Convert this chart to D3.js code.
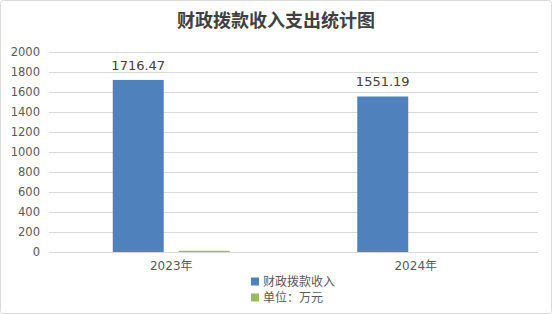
<!DOCTYPE html>
<html><head><meta charset="utf-8">
<script src="https://cdn.jsdelivr.net/npm/d3@7"></script>
<style>
html,body{margin:0;padding:0;background:#fff;}
svg text{font-family:"DejaVu Sans","Noto Sans CJK SC",sans-serif;}
</style></head>
<body><svg id="c" width="553" height="315"></svg>
<script>
const title = "财政拨款收入支出统计图";
const categories = ["2023年", "2024年"];
const seriesNames = ["财政拨款收入", "单位：万元"];
const incomeValues = [1716.47, 1551.19];
const unitValues = [12, 0];
const yTicks = [0, 200, 400, 600, 800, 1000, 1200, 1400, 1600, 1800, 2000];
const colors = ["#4F81BD", "#9BBB59"];

const svg = d3.select("#c");
svg.append("rect").attr("x",0.5).attr("y",0.5).attr("width",551).attr("height",313)
  .attr("rx",3).attr("fill","#fff").attr("stroke","#D9D9D9");

const m = {left:49, right:538, top:51.5, bottom:252};
const x0 = d3.scaleBand().domain(categories).range([m.left, m.right]);
const y = d3.scaleLinear().domain([0,2000]).range([m.bottom, m.top]);
const series = [incomeValues, unitValues];
const barW = 51, gap = 15;
const groupW = barW*2 + gap;

// gridlines
svg.append("g").selectAll("line").data(yTicks).join("line")
  .attr("x1", m.left).attr("x2", m.right)
  .attr("y1", d=>Math.round(y(d))+0.5).attr("y2", d=>Math.round(y(d))+0.5)
  .attr("stroke","#D9D9D9").attr("stroke-width",1);

// y axis labels
const yAxis = d3.axisLeft(y).tickValues(yTicks).tickFormat(d3.format("d")).tickSize(0).tickPadding(9);
const yg = svg.append("g").attr("transform",`translate(${m.left},0)`).call(yAxis);
yg.select(".domain").remove();
yg.selectAll("text").attr("fill","#595959").style("font-size","11.5px")
  .style("font-family",'"DejaVu Sans",sans-serif');

// bars
series.forEach((vals, si) => {
  svg.append("g").selectAll("rect").data(categories).join("rect")
    .attr("x", c => x0(c) + x0.bandwidth()/2 - groupW/2 + si*(barW+gap))
    .attr("y", (c,i) => y(vals[i]))
    .attr("width", barW)
    .attr("height", (c,i) => m.bottom - y(vals[i]))
    .attr("fill", colors[si]);
});

// data labels for income
svg.append("g").selectAll("text").data(categories).join("text")
  .attr("x", c => x0(c) + x0.bandwidth()/2 - groupW/2 + barW/2)
  .attr("y", (c,i) => y(incomeValues[i]) - 10)
  .attr("text-anchor","middle").attr("fill","#404040")
  .style("font-size","13px")
  .text((c,i) => incomeValues[i].toFixed(2));

// x axis
const xg = svg.append("g").attr("transform",`translate(0,${m.bottom})`)
  .call(d3.axisBottom(x0).tickSize(0).tickPadding(9));
xg.select(".domain").attr("stroke","#D9D9D9").attr("d",`M${m.left},0.5H${m.right}`);
xg.selectAll("text").attr("fill","#595959").style("font-size","12px")
  .style("font-family",'"DejaVu Sans","Noto Sans CJK SC",sans-serif');

// title
svg.append("text").attr("x",276).attr("y",27).attr("text-anchor","middle")
  .attr("fill","#404040").style("font-size","18px").style("font-weight","bold")
  .style("font-family",'"Noto Sans CJK SC",sans-serif')
  .text(title);

// legend
const lg = svg.append("g");
seriesNames.forEach((n,i) => {
  const yy = 281.5 + i*16;
  lg.append("rect").attr("x",251).attr("y",yy-4).attr("width",8).attr("height",8).attr("fill",colors[i]);
  lg.append("text").attr("x",263).attr("y",yy+4.5).attr("fill","#595959")
    .style("font-size","12px").style("font-family",'"Noto Sans CJK SC",sans-serif').text(n);
});
</script></body></html>
